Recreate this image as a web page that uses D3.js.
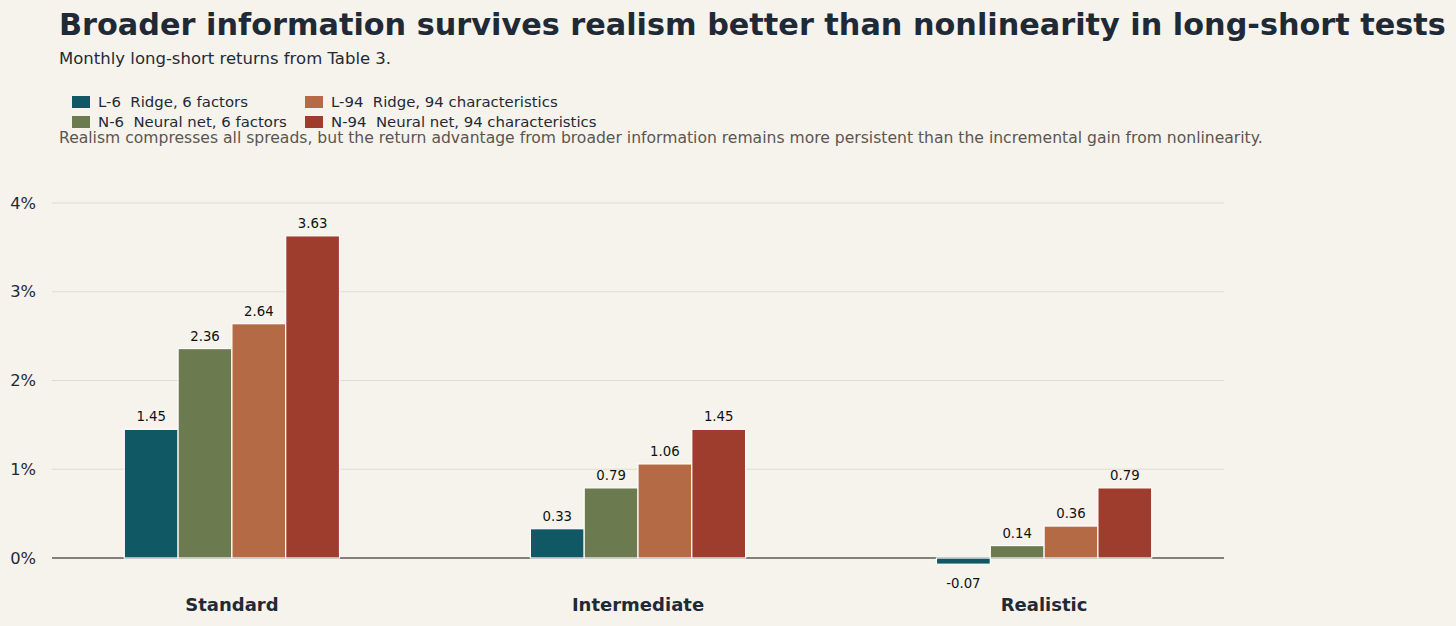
<!DOCTYPE html>
<html>
<head>
<meta charset="utf-8">
<script src="https://cdn.jsdelivr.net/npm/d3@7"></script>
<style>
  body { margin: 0; background: #f6f3ec; }
  svg { display: block; font-family: "DejaVu Sans", sans-serif; }
</style>
</head>
<body>
<div id="chart"></div>
<script>
// Data
var regimes = ["Standard", "Intermediate", "Realistic"];
var seriesKeys = ["L-6", "N-6", "L-94", "N-94"];
var seriesNames = ["Ridge, 6 factors", "Neural net, 6 factors", "Ridge, 94 characteristics", "Neural net, 94 characteristics"];
var seriesColors = ["#115865", "#6b7b4f", "#b56a46", "#9e3c2d"];
var l6Values = [1.45, 0.33, -0.07];
var n6Values = [2.36, 0.79, 0.14];
var l94Values = [2.64, 1.06, 0.36];
var n94Values = [3.63, 1.45, 0.79];
var yTicks = [0, 1, 2, 3, 4];

var allValues = [l6Values, n6Values, l94Values, n94Values];

var svgWidth = 1456;
var svgHeight = 626;

var margin = { top: 203, right: 232, bottom: 68, left: 52 };
var width = svgWidth - margin.left - margin.right;
var plotHeight = 355;

var svg = d3.select("#chart")
  .append("svg")
  .attr("width", svgWidth)
  .attr("height", svgHeight);

svg.append("rect")
  .attr("width", svgWidth)
  .attr("height", svgHeight)
  .attr("fill", "#f6f3ec");

// Titles
svg.append("text")
  .attr("x", 59)
  .attr("y", 35)
  .attr("font-size", "30.3px")
  .attr("font-weight", "bold")
  .attr("fill", "#1f2a36")
  .text("Broader information survives realism better than nonlinearity in long-short tests");

svg.append("text")
  .attr("x", 59)
  .attr("y", 64)
  .attr("font-size", "16.5px")
  .attr("fill", "#1f2a36")
  .text("Monthly long-short returns from Table 3.");

svg.append("text")
  .attr("x", 59)
  .attr("y", 143)
  .attr("font-size", "15.6px")
  .attr("fill", "#5a5650")
  .text("Realism compresses all spreads, but the return advantage from broader information remains more persistent than the incremental gain from nonlinearity.");

// Legend
var legend = svg.append("g");
var legendItems = legend.selectAll("g")
  .data(seriesKeys)
  .enter()
  .append("g")
  .attr("transform", (d, i) => `translate(${i < 2 ? 72 : 305}, ${i % 2 === 0 ? 96 : 116})`);

legendItems.append("rect")
  .attr("width", 18)
  .attr("height", 12)
  .attr("fill", (d, i) => seriesColors[i]);

legendItems.append("text")
  .attr("x", 26)
  .attr("y", 11)
  .attr("font-size", "14.9px")
  .attr("fill", "#1f2a36")
  .attr("xml:space", "preserve")
  .text((d, i) => d + "  " + seriesNames[i]);

var chartGroup = svg.append("g")
  .attr("transform", `translate(${margin.left}, ${margin.top})`);

// Scales
var x0 = d3.scaleBand()
  .domain(regimes)
  .range([0, width])
  .paddingInner(0.47)
  .paddingOuter(0.178);

var x1 = d3.scaleBand()
  .domain(seriesKeys)
  .range([0, x0.bandwidth()]);

var y = d3.scaleLinear()
  .domain([0, 4])
  .range([plotHeight, 0]);

// Grid
chartGroup.selectAll(".grid")
  .data(yTicks.filter(t => t !== 0))
  .enter()
  .append("line")
  .attr("x1", 0)
  .attr("x2", width)
  .attr("y1", d => y(d))
  .attr("y2", d => y(d))
  .attr("stroke", "#e2dccf")
  .attr("stroke-width", 1.2);

// Y axis
var leftAxis = d3.axisLeft(y)
  .tickValues(yTicks)
  .tickSize(0)
  .tickPadding(16)
  .tickFormat(d => d + "%");

var yAxisG = chartGroup.append("g").call(leftAxis);
yAxisG.select(".domain").remove();
yAxisG.selectAll("text")
  .attr("font-family", "DejaVu Sans, sans-serif")
  .attr("font-size", "16.3px")
  .attr("fill", "#1f2a36");

// Zero line
chartGroup.append("line")
  .attr("x1", 0)
  .attr("x2", width)
  .attr("y1", y(0))
  .attr("y2", y(0))
  .attr("stroke", "#5b5a55")
  .attr("stroke-width", 1.3);

// Bars
var rows = regimes.map((r, gi) => ({
  regime: r,
  values: seriesKeys.map((k, si) => ({ key: k, idx: si, value: allValues[si][gi] }))
}));

var groups = chartGroup.selectAll(".group")
  .data(rows)
  .enter()
  .append("g")
  .attr("transform", d => `translate(${x0(d.regime)}, 0)`);

groups.selectAll("rect")
  .data(d => d.values)
  .enter()
  .append("rect")
  .attr("x", d => x1(d.key))
  .attr("y", d => y(Math.max(0, d.value)))
  .attr("width", x1.bandwidth())
  .attr("height", d => Math.abs(y(d.value) - y(0)))
  .attr("fill", d => seriesColors[d.idx])
  .attr("stroke", "#ffffff")
  .attr("stroke-width", 1.2);

groups.selectAll(".val")
  .data(d => d.values)
  .enter()
  .append("text")
  .attr("x", d => x1(d.key) + x1.bandwidth() / 2)
  .attr("y", d => d.value >= 0 ? y(d.value) - 8 : y(d.value) + 24)
  .attr("text-anchor", "middle")
  .attr("font-size", "13.3px")
  .attr("fill", "#111111")
  .text(d => d.value.toFixed(2));

// Category labels
var bottomAxis = d3.axisBottom(x0).tickSize(0).tickPadding(0);
var xAxisG = chartGroup.append("g")
  .attr("transform", `translate(0, ${y(0)})`)
  .call(bottomAxis);
xAxisG.select(".domain").remove();
xAxisG.selectAll("text")
  .attr("font-family", "DejaVu Sans, sans-serif")
  .attr("font-size", "18px")
  .attr("font-weight", "bold")
  .attr("fill", "#1f2a36")
  .attr("dy", null)
  .attr("y", 53);
</script>
</body>
</html>
